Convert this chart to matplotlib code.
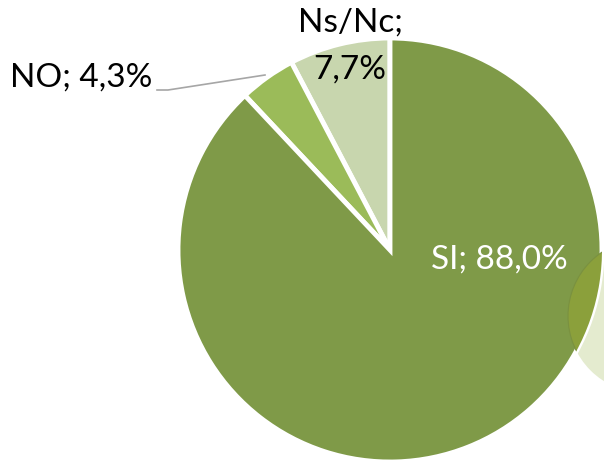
import matplotlib.pyplot as plt
from matplotlib.patches import Circle

plt.rcParams['font.family'] = ['Lato', 'DejaVu Sans']

# dati
categorie = ['Ns/Nc', 'NO', 'SI']
valori = [7.7, 4.3, 88.0]
colori = ['#C8D6AE', '#9BBB59', '#7F9A48']

W, H = 604, 463
fig = plt.figure(figsize=(W / 100, H / 100), dpi=100)
ax = fig.add_axes([0, 0, 1, 1])

cx, cy, r = 390, H - 250, 212

# cerchio decorativo a destra (parte esterna chiara)
ax.add_patch(Circle((645, H - 316), 77, facecolor='#E4EBCF', edgecolor='none', zorder=1))

wedges, _ = ax.pie(valori, colors=colori, startangle=90, counterclock=True,
                   center=(cx, cy), radius=r, frame=True,
                   wedgeprops=dict(edgecolor='white', linewidth=3.5))
for w in wedges:
    w.set_zorder(2)
ax.set_xlim(0, W)
ax.set_ylim(0, H)
ax.set_aspect('equal')
ax.axis('off')

# parte sovrapposta alla torta
sovr = Circle((645, H - 316), 77, facecolor='#8BA03B', edgecolor='#7A9140', lw=0.8, zorder=3)
ax.add_patch(sovr)
sovr.set_clip_path(wedges[2])

# etichette
ax.text(350, H - 23, categorie[0] + ';', ha='center', va='center', fontsize=24, color='black', zorder=5)
ax.text(350, H - 70, '7,7%', ha='center', va='center', fontsize=24, color='black', zorder=5)
ax.text(10, H - 78, categorie[1] + '; 4,3%', ha='left', va='center', fontsize=24, color='black', zorder=5)
ax.plot([157, 168, 265], [H - 90, H - 90, H - 75], color='#A6A6A6', lw=1.2, zorder=5)
ax.text(499, H - 260, categorie[2] + '; 88,0%', ha='center', va='center', fontsize=24, color='white', zorder=5)

fig.savefig('out.png', dpi=100)
